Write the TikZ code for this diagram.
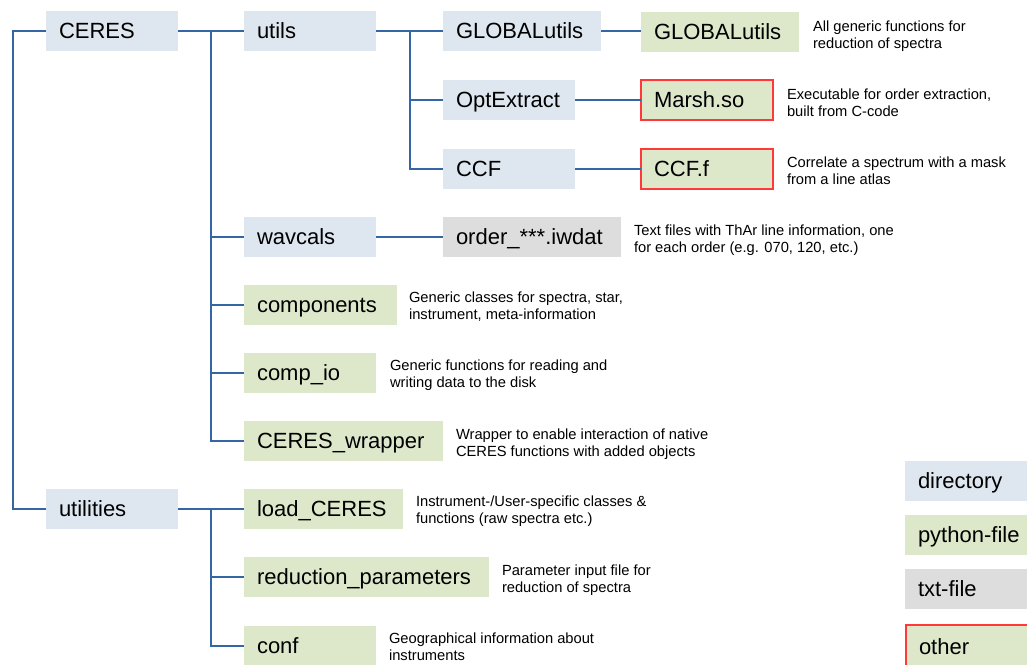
\documentclass[tikz,border=0pt]{standalone}
\usepackage{fontspec}
\setmainfont{Liberation Sans}
\definecolor{dirc}{HTML}{DEE6EF}
\definecolor{pyc}{HTML}{DDE8CB}
\definecolor{txtc}{HTML}{DDDDDD}
\definecolor{redc}{HTML}{FF3838}
\definecolor{linec}{HTML}{3465A4}
\begin{document}
\begin{tikzpicture}[x=1pt,y=-1pt,
 box/.style={rectangle, anchor=west, minimum height=40pt, inner xsep=13pt, inner ysep=0pt, outer sep=0pt, align=left, text height=15.75pt, text depth=0pt, font=\fontsize{22}{26}\selectfont},
 dirbox/.style={box, fill=dirc},
 pybox/.style={box, fill=pyc},
 txtbox/.style={box, fill=txtc},
 othbox/.style={box, fill=pyc, draw=redc, line width=2pt},
 desc/.style={anchor=west, inner sep=0pt, outer sep=0pt, align=left, font=\fontsize{14.7}{17}\selectfont},
 conn/.style={draw=linec, line width=1.5pt},
]
\clip (0,0) rectangle (1027,664);
\fill[white] (0,0) rectangle (1027,664);

% level 1
\node[dirbox, text width=106pt] (ceres) at (46,31) {CERES};
\node[dirbox, text width=106pt] (utilities) at (46,509) {utilities};
% level 2
\node[dirbox, text width=106pt] (utils) at (244,31) {utils};
\node[dirbox, text width=106pt] (wavcals) at (244,237) {wavcals};
\node[pybox, text width=127pt] (components) at (244,305) {components};
\node[pybox, text width=106pt] (compio) at (244,373) {comp\_io};
\node[pybox, text width=173pt] (wrapper) at (244,441) {CERES\_wrapper};
\node[pybox, text width=133pt] (load) at (244,509) {load\_CERES};
\node[pybox, text width=219pt] (redpar) at (244,577) {reduction\_parameters};
\node[pybox, text width=106pt] (conf) at (244,646) {conf};
% level 3
\node[dirbox, text width=132pt] (gdir) at (443,31) {GLOBALutils};
\node[dirbox, text width=106pt] (optex) at (443,100) {OptExtract};
\node[dirbox, text width=106pt] (ccf) at (443,169) {CCF};
\node[txtbox, text width=152pt] (order) at (443,237) {order\_***.iwdat};
% level 4
\node[pybox, text width=132pt] (gpy) at (641,32) {GLOBALutils};
\node[othbox, text width=106pt] (marsh) at (641,100) {Marsh.so};
\node[othbox, text width=106pt] (ccff) at (641,169) {CCF.f};

% descriptions
\node[desc] (dgpy) at (813,37) {\strut All generic functions for\\\strut reduction of spectra};
\node[desc] (dmarsh) at (787,105) {\strut Executable for order extraction,\\\strut built from C-code};
\node[desc] (dccf) at (787,173) {\strut Correlate a spectrum with a mask\\\strut from a line atlas};
\node[desc] (dorder) at (634,241) {\strut Text files with ThAr line information, one\\\strut for each order (e.g. 070, 120, etc.)};
\node[desc] (dcomp) at (409,308) {\strut Generic classes for spectra, star,\\\strut instrument, meta-information};
\node[desc] (dcompio) at (390,376) {\strut Generic functions for reading and\\\strut writing data to the disk};
\node[desc] (dwrap) at (456,445) {\strut Wrapper to enable interaction of native\\\strut CERES functions with added objects};
\node[desc] (dload) at (416,512) {\strut Instrument-/User-specific classes \&\\\strut functions (raw spectra etc.)};
\node[desc] (dredpar) at (502,581) {\strut Parameter input file for\\\strut reduction of spectra};
\node[desc] (dconf) at (389,649) {\strut Geographical information about\\\strut instruments};

% legend
\node[dirbox, text width=106pt] (ldir) at (905,481) {directory};
\node[pybox, text width=106pt] (lpy) at (905,535) {python-file};
\node[txtbox, text width=106pt] (ltxt) at (905,589) {txt-file};
\node[othbox, text width=106pt, minimum height=44pt] (loth) at (906,647) {other};

% connectors
\coordinate (t2) at (211,31);
\coordinate (t2b) at (211,509);
\coordinate (t3) at (410,31);
\draw[conn] (ceres.west) -- ++(-33,0) |- (utilities.west);
\draw[conn] (ceres.east) -- (utils.west);
\draw[conn] (t2) |- (wavcals.west);
\draw[conn] (t2) |- (components.west);
\draw[conn] (t2) |- (compio.west);
\draw[conn] (t2) |- (wrapper.west);
\draw[conn] (utilities.east) -- (load.west);
\draw[conn] (t2b) |- (redpar.west);
\draw[conn] (t2b) |- (conf.west);
\draw[conn] (utils.east) -- (gdir.west);
\draw[conn] (t3) |- (optex.west);
\draw[conn] (t3) |- (ccf.west);
\draw[conn] (gdir.east) -- (gdir.east -| gpy.west);
\draw[conn] (optex.east) -- (marsh.west);
\draw[conn] (ccf.east) -- (ccff.west);
\draw[conn] (wavcals.east) -- (order.west);
\end{tikzpicture}
\end{document}
